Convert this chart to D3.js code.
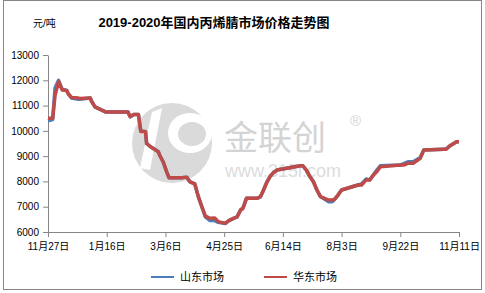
<!DOCTYPE html>
<html>
<head>
<meta charset="utf-8">
<script src="https://cdn.jsdelivr.net/npm/d3@7"></script>
<style>
  body { margin: 0; background: #fff; }
  svg { display: block; }
  text { font-family: "Liberation Sans", "Noto Sans CJK SC", sans-serif; }
</style>
</head>
<body>
<script>
const width = 485;
const height = 293;
const plotLeft = 48, plotRight = 459, plotTop = 55, plotBottom = 232;

const dates = ["2019-11-27","2019-12-01","2019-12-03","2019-12-06","2019-12-09","2019-12-13","2019-12-14",
  "2019-12-17","2019-12-23","2019-12-24","2020-01-02","2020-01-03","2020-01-06","2020-01-10","2020-01-15",
  "2020-02-03","2020-02-05","2020-02-08","2020-02-12","2020-02-14","2020-02-18","2020-02-19","2020-02-23",
  "2020-02-29","2020-03-01","2020-03-04","2020-03-07","2020-03-09","2020-03-20","2020-03-24","2020-03-27",
  "2020-03-31","2020-04-03","2020-04-06","2020-04-09","2020-04-13","2020-04-17","2020-04-20","2020-04-26",
  "2020-04-29","2020-05-03","2020-05-06","2020-05-09","2020-05-11","2020-05-14","2020-05-23","2020-05-26",
  "2020-05-28","2020-05-31","2020-06-03","2020-06-06","2020-06-09","2020-06-29","2020-07-01","2020-07-04",
  "2020-07-07","2020-07-10","2020-07-13","2020-07-16","2020-07-23","2020-07-26","2020-07-28","2020-07-31",
  "2020-08-03","2020-08-17","2020-08-20","2020-08-24","2020-08-27","2020-08-30","2020-09-02","2020-09-05",
  "2020-09-22","2020-09-25","2020-09-29","2020-10-03","2020-10-09","2020-10-12","2020-10-29","2020-10-31",
  "2020-11-03","2020-11-09","2020-11-11"];

// 华东市场
const eastChina = [10500,10500,11400,11950,11620,11600,11480,
  11320,11300,11280,11300,11180,10950,10860,10750,
  10750,10560,10650,10650,9970,9970,9500,9350,
  9175,9045,8780,8385,8150,8150,8170,7980,
  7900,7400,7000,6630,6540,6550,6410,6340,
  6450,6540,6600,6870,6940,7330,7330,7400,
  7600,7930,8190,8345,8450,8620,8620,8450,
  8190,7990,7660,7400,7265,7265,7290,7460,
  7660,7860,7860,8060,8060,8250,8380,8580,
  8650,8650,8720,8720,8910,9240,9270,9270,
  9400,9570,9570,9500];

// 山东市场
const shandong = [10400,10450,11700,12000,11650,11600,11480,
  11300,11250,11250,11300,11180,10950,10860,10750,
  10750,10560,10650,10650,10000,9970,9500,9350,
  9175,9045,8780,8385,8150,8150,8170,7980,
  7900,7400,7000,6600,6450,6450,6380,6340,
  6450,6540,6600,6870,6940,7330,7330,7400,
  7600,7930,8190,8345,8450,8620,8620,8450,
  8190,7990,7660,7400,7200,7200,7290,7460,
  7660,7860,7900,8100,8060,8250,8450,8620,
  8650,8700,8780,8780,8950,9240,9270,9270,
  9400,9570,9570,9500];

const tickDates = ["2019-11-27","2020-01-16","2020-03-06","2020-04-25","2020-06-14","2020-08-03","2020-09-22","2020-11-11"];
const tickLabels = ["11月27日","1月16日","3月6日","4月25日","6月14日","8月3日","9月22日","11月11日"];
const yTicks = [6000,7000,8000,9000,10000,11000,12000,13000];
const seriesNames = ["山东市场","华东市场"];
const colors = ["#4a7ebb","#be4b48"];

const parse = d3.timeParse("%Y-%m-%d");

const svg = d3.select("body").append("svg")
    .attr("width", width).attr("height", height);

svg.append("rect")
    .attr("x", 3.5).attr("y", 0.5).attr("width", 478).attr("height", 289)
    .attr("fill", "#fff").attr("stroke", "#868686");

// watermark
const wm = svg.append("g");
wm.append("circle").attr("cx", 172).attr("cy", 143).attr("r", 40).attr("fill", "#dadada");
wm.append("ellipse").attr("cx", 190).attr("cy", 133).attr("rx", 22).attr("ry", 20).attr("fill", "#fff");
wm.append("ellipse").attr("cx", 192).attr("cy", 134).attr("rx", 14).attr("ry", 12).attr("fill", "#dadada");
wm.append("path").attr("d", "M152,112 L162,108 L150,170 L140,168 Z").attr("fill", "#fff");
wm.append("text").attr("x", 224).attr("y", 150).attr("font-size", 34)
    .attr("font-family", "Noto Sans CJK SC").attr("fill", "#d4d4d4").text("金联创");
wm.append("text").attr("x", 225).attr("y", 177).attr("font-size", 18)
    .attr("fill", "#dcdcdc").text("www.315i.com");
wm.append("text").attr("x", 350).attr("y", 126).attr("font-size", 15)
    .attr("fill", "#d4d4d4").text("®");

const xScale = d3.scaleTime()
    .domain([parse(tickDates[0]), parse(tickDates[tickDates.length - 1])])
    .range([plotLeft, plotRight]);
const yScale = d3.scaleLinear().domain([6000, 13000]).range([plotBottom, plotTop]);

const xAxis = d3.axisBottom(xScale)
    .tickValues(tickDates.map(parse))
    .tickFormat((d, i) => tickLabels[i])
    .tickSize(5).tickSizeOuter(0).tickPadding(6);
const yAxis = d3.axisLeft(yScale)
    .tickValues(yTicks).tickFormat(d3.format("d"))
    .tickSize(5).tickSizeOuter(0).tickPadding(4);

const gx = svg.append("g").attr("transform", "translate(0," + plotBottom + ")").call(xAxis);
const gy = svg.append("g").attr("transform", "translate(" + plotLeft + ",0)").call(yAxis);
[gx, gy].forEach(g => {
    g.selectAll("path, line").attr("stroke", "#868686");
    g.selectAll("text").attr("font-size", 10).attr("fill", "#000")
        .attr("font-family", "Liberation Sans, Noto Sans CJK SC");
});

const line = d3.line()
    .x((d, i) => xScale(parse(dates[i])))
    .y(d => yScale(d));

[shandong, eastChina].forEach((s, k) => {
    svg.append("path").datum(s)
        .attr("d", line)
        .attr("fill", "none")
        .attr("stroke", colors[k])
        .attr("stroke-width", 3.5)
        .attr("stroke-linejoin", "round");
});

svg.append("text").attr("x", 214).attr("y", 27).attr("text-anchor", "middle")
    .attr("font-size", 13).attr("font-weight", "bold")
    .attr("font-family", "Noto Sans CJK SC").text("2019-2020年国内丙烯腈市场价格走势图");
svg.append("text").attr("x", 33).attr("y", 27).attr("font-size", 10)
    .attr("font-family", "Noto Sans CJK SC").text("元/吨");

const legendX = [151, 264];
seriesNames.forEach((name, k) => {
    svg.append("line").attr("x1", legendX[k]).attr("x2", legendX[k] + 23)
        .attr("y1", 277).attr("y2", 277)
        .attr("stroke", colors[k]).attr("stroke-width", 2);
    svg.append("text").attr("x", legendX[k] + 29).attr("y", 281)
        .attr("font-size", 11).attr("font-family", "Noto Sans CJK SC")
        .text(name);
});
</script>
</body>
</html>
